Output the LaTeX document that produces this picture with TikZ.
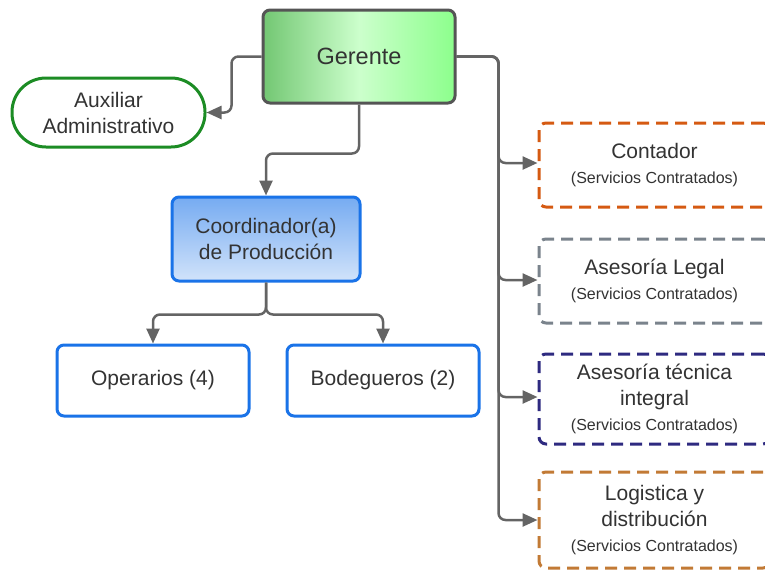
\documentclass[tikz,border=0pt]{standalone}
\usepackage{fontspec}
\setmainfont{Liberation Sans}
\usetikzlibrary{arrows.meta,positioning,calc}
\definecolor{txtgray}{HTML}{333333}
\definecolor{linegray}{HTML}{646464}
\definecolor{boxgray}{HTML}{555555}
\definecolor{auxgreen}{HTML}{1C8C24}
\definecolor{prodblue}{HTML}{1A73E8}
\definecolor{contorange}{HTML}{D55A12}
\definecolor{legalgray}{HTML}{7A838C}
\definecolor{tecindigo}{HTML}{2E2A80}
\definecolor{logbrown}{HTML}{C27A35}
\newcommand{\servicios}{\\[-1pt]{\fontsize{16}{20}\selectfont (Servicios Contratados)}}

\begin{document}
\begin{tikzpicture}[x=1pt,y=-1pt,
every node/.style={rounded corners=7pt,line width=3pt,text=txtgray,align=center,
  font=\fontsize{21}{26}\selectfont,inner sep=0pt},
conn/.style={draw=linegray,line width=2.5pt,rounded corners=7pt,
  -{Triangle[length=15pt,width=13pt]}},
extbox/.style={draw,dashed,dash pattern=on 12pt off 7pt,fill=white,
  minimum width=231pt}]
\useasboundingbox (0,0) rectangle (765,571);
\clip (0,0) rectangle (765,571);
% jefatura
\node[draw=boxgray,left color=green!60!black!55!white,right color=green!45,
  middle color=green!20,minimum width=192pt,minimum height=93pt,
  font=\fontsize{23.5}{27}\selectfont] (ger) at (359,56.5) {Gerente};
\node[draw=auxgreen,fill=white,rounded corners=34pt,minimum width=193pt,
  minimum height=69pt] (aux) at (108.5,112.5) {Auxiliar\\Administrativo};
% produccion
\node[draw=prodblue,top color=prodblue!60,bottom color=prodblue!20,
  minimum width=188pt,minimum height=84pt] (coord) at (266,239) {Coordinador(a)\\de Producción};
\node[draw=prodblue,fill=white,minimum width=192pt,minimum height=71pt] (oper) at (153,380.5) {Operarios (4)};
\node[draw=prodblue,fill=white,minimum width=192pt,minimum height=71pt] (bodeg) at (383,380.5) {Bodegueros (2)};
% servicios contratados
\node[extbox,draw=contorange,minimum height=84pt] (cont) at (654.5,165) {Contador\servicios};
\node[extbox,draw=legalgray,minimum height=84pt] (legal) at (654.5,281) {Asesoría Legal\servicios};
\node[extbox,draw=tecindigo,minimum height=90pt] (tecn) at (654.5,399) {Asesoría técnica\\integral\servicios};
\node[extbox,draw=logbrown,minimum height=96pt] (logi) at (654.5,520) {Logistica y\\distribución\servicios};
% conexiones
\draw[conn] (ger.west) -- ++(-30,0) |- (aux.east);
\draw[conn] (ger.south) -- ++(0,49) -| (coord.north);
\draw[conn] (coord.south) -- ++(0,32) -| (oper.north);
\draw[conn] (coord.south) -- ++(0,32) -| (bodeg.north);
\draw[conn] (ger.east) -- ++(42,0) |- ($(cont.west)+(0,-2)$);
\draw[conn] (ger.east) -- ++(42,0) |- ($(legal.west)+(0,-1)$);
\draw[conn] (ger.east) -- ++(42,0) |- ($(tecn.west)+(0,-2)$);
\draw[conn] (ger.east) -- ++(42,0) |- (logi.west);
\end{tikzpicture}
\end{document}
